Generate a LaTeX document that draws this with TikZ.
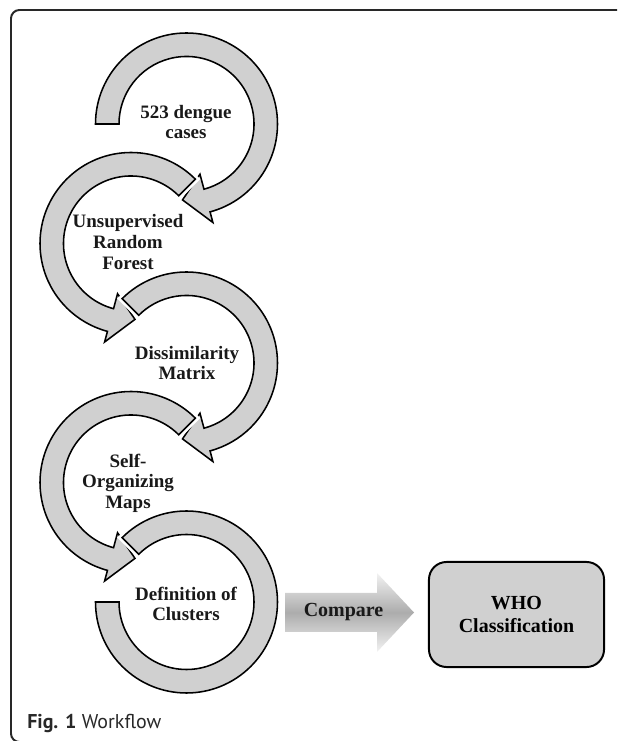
\documentclass[tikz,border=0pt]{standalone}
\usepackage{fontspec}
\setmainfont{Liberation Serif}
\newfontfamily\capfont{PT Sans}

\definecolor{ringgray}{RGB}{208,208,208}
\definecolor{framegray}{RGB}{40,40,40}

\tikzset{
  ringarrow/.style={draw=black, line width=1.1pt, fill=ringgray,
    preaction={draw=white, line width=5pt}},
  steplabel/.style={font=\fontsize{13.5}{14.6}\selectfont\bfseries,
    align=center, text=black!90, inner sep=1pt},
  whobox/.style={draw=black, line width=1.4pt, fill=ringgray,
    rounded corners=12.5pt, minimum width=124.5pt, minimum height=74.7pt,
    align=center, font=\fontsize{14.2}{16.4}\selectfont\bfseries}
}

\begin{document}
\begin{tikzpicture}[x=0.025cm, y=0.025cm]
\useasboundingbox (0,0) rectangle (624,741);

% frame
\draw[framegray, line width=1.4pt, rounded corners=6pt]
  (617,731) -- (11,731) -- (11,-1) -- (40,-1);

% workflow rings
\foreach \cx/\cy/\sa/\ea/\ta in
{186.5/617/180/-75/-93, 131/497.5/45/255/273,
 186.5/378/135/-75/-93, 131/258.5/45/255/273}
\draw[ringarrow, shift={(\cx,\cy)}]
  (\sa:91) arc[start angle=\sa, end angle=\ea, radius=91]
  -- (\ea:102) -- (\ta:76) -- (\ea:52) -- (\ea:67.5)
  arc[start angle=\ea, end angle=\sa, radius=67.5] -- cycle;

% last ring, no head
\draw[ringarrow, shift={(186.5,139)}]
  (135:91) arc[start angle=135, end angle=-180, radius=91]
  -- (-180:67.5) arc[start angle=-180, end angle=135, radius=67.5] -- cycle;

% step labels
\node[steplabel] (cases) at (186,619) {523 dengue\\cases};
\node[steplabel] (urf) at (128,499) {Unsupervised\\Random\\Forest};
\node[steplabel] (dism) at (187,378) {Dissimilarity\\Matrix};
\node[steplabel] (som) at (128,258) {Self-\\Organizing\\Maps};
\node[steplabel] (clust) at (186,137) {Definition of\\Clusters};

% compare arrow
\shade[top color=gray!10, bottom color=gray!10, middle color=gray!65]
  (285,148) -- (377,148) -- (377,168) -- (414,128.5)
  -- (377,89) -- (377,109) -- (285,109) -- cycle;
\node[steplabel, font=\fontsize{14.2}{16.4}\selectfont\bfseries]
  (cmp) at (343.5,128.5) {Compare};

% WHO box
\node[whobox] (who) at (516.5,126.5) {WHO\\Classification};

% caption
\node[anchor=base west, inner sep=0pt, text=framegray,
  font=\capfont\fontsize{14.2}{16}\selectfont]
  (cap) at (27,12) {\textbf{Fig. 1} Workflow};
\end{tikzpicture}
\end{document}
